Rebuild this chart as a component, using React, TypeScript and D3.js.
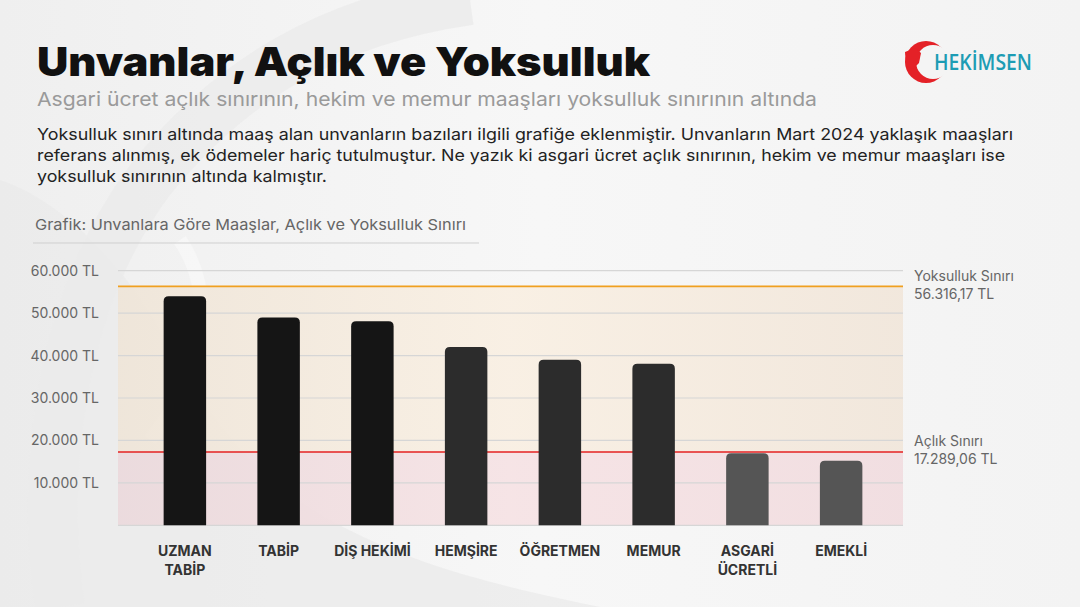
import React from "react";
import * as d3 from "d3";

const categories = ["UZMAN TABİP", "TABİP", "DİŞ HEKİMİ", "HEMŞİRE", "ÖĞRETMEN", "MEMUR", "ASGARİ ÜCRETLİ", "EMEKLİ"];
const labelLines = [["UZMAN", "TABİP"], ["TABİP"], ["DİŞ HEKİMİ"], ["HEMŞİRE"], ["ÖĞRETMEN"], ["MEMUR"], ["ASGARİ", "ÜCRETLİ"], ["EMEKLİ"]];
const salaries = [54000, 49000, 48100, 42000, 39000, 38100, 17002, 15200];
const barShade = [0, 0, 0, 1, 1, 1, 2, 2];
const yTicks = [10000, 20000, 30000, 40000, 50000, 60000];
const yTickLabels = ["10.000 TL", "20.000 TL", "30.000 TL", "40.000 TL", "50.000 TL", "60.000 TL"];
const povertyLine = 56316.17;
const hungerLine = 17289.06;
const paragraph = [
  "Yoksulluk sınırı altında maaş alan unvanların bazıları ilgili grafiğe eklenmiştir. Unvanların Mart 2024 yaklaşık maaşları",
  "referans alınmış, ek ödemeler hariç tutulmuştur. Ne yazık ki asgari ücret açlık sınırının, hekim ve memur maaşları ise",
  "yoksulluk sınırının altında kalmıştır.",
];
const paragraphWidths = [976, 968, 290];

export default function App() {
  const W = 1080, H = 607;
  const plotL = 118, plotR = 903;
  const y = d3.scaleLinear().domain([0, 60000]).range([525.3, 270.7]);
  const x = d3.scaleBand<string>().domain(categories).range([138, 888]).paddingInner(0.547).paddingOuter(0.2735);
  const shades = ["#151515", "#2c2c2c", "#555555"];
  const font = "Inter, 'Open Sans', sans-serif";
  const bw = x.bandwidth();
  const r = 5;
  const barPath = (x0: number, y0: number, w: number, y1: number) =>
    `M${x0},${y1}V${y0 + r}Q${x0},${y0} ${x0 + r},${y0}H${x0 + w - r}Q${x0 + w},${y0} ${x0 + w},${y0 + r}V${y1}Z`;

  return (
    <svg width={W} height={H} style={{ position: "absolute", left: 0, top: 0 }} fontFamily={font}>
      <defs>
        <linearGradient id="bg" x1="0" x2="1" y1="0" y2="0">
          <stop offset="0" stopColor="#efefef" />
          <stop offset="0.5" stopColor="#f7f7f7" />
          <stop offset="1" stopColor="#f3f3f3" />
        </linearGradient>
        <linearGradient id="beige" x1="0" x2="1" y1="0" y2="0">
          <stop offset="0" stopColor="#efe5d8" />
          <stop offset="0.5" stopColor="#f9efe2" />
          <stop offset="1" stopColor="#f1e6da" />
        </linearGradient>
        <linearGradient id="pink" x1="0" x2="1" y1="0" y2="0">
          <stop offset="0" stopColor="#ebd9dc" />
          <stop offset="0.5" stopColor="#f6e2e4" />
          <stop offset="1" stopColor="#f1dcdf" />
        </linearGradient>
      </defs>
      <rect width={W} height={H} fill="url(#bg)" />
      {/* faint watermark */}
      <path d="M0,180 C60,200 120,260 160,330 C200,400 240,470 330,520 C420,570 520,590 600,607 L0,607 Z" fill="#e9e9e9" opacity={0.7} />
      <path d="M60,607 C40,470 60,300 150,180 C230,80 330,20 470,0" fill="none" stroke="#ebebeb" strokeWidth={50} opacity={0.8} />
      <path d="M180,240 C220,300 200,380 150,440" fill="none" stroke="#f7f7f7" strokeWidth={14} opacity={0.8} />

      {/* title */}
      <text x={37} y={76} fontSize={40} fontWeight={900} fill="#111" textLength={613} lengthAdjust="spacingAndGlyphs">Unvanlar, Açlık ve Yoksulluk</text>
      <text x={37} y={106} fontSize={19} fill="#9a9a9a" textLength={780} lengthAdjust="spacingAndGlyphs">Asgari ücret açlık sınırının, hekim ve memur maaşları yoksulluk sınırının altında</text>
      {paragraph.map((t, i) => (
        <text key={i} x={37} y={140 + i * 21} fontSize={16.5} fill="#222" textLength={paragraphWidths[i]} lengthAdjust="spacingAndGlyphs">{t}</text>
      ))}
      <text x={35} y={230} fontSize={15} fill="#666" textLength={431} lengthAdjust="spacingAndGlyphs">Grafik: Unvanlara Göre Maaşlar, Açlık ve Yoksulluk Sınırı</text>
      <line x1={33} x2={479} y1={243} y2={243} stroke="#cfcfcf" strokeWidth={1} />

      {/* logo */}
      <g>
        <circle cx={926} cy={62} r={21} fill="#e42127" />
        <circle cx={933} cy={62} r={17} fill="#f4f4f4" />
        <path d="M905,52 l10,-4 l6,5 l-2,10 l-6,6 l-7,-3 z" fill="#e42127" />
        <text x={934} y={70} fontSize={21} fontWeight={600} fill="#1d9cb4" fontFamily="'Open Sans', sans-serif" textLength={98} lengthAdjust="spacingAndGlyphs">HEKİMSEN</text>
      </g>

      {/* zones */}
      <rect x={plotL} width={plotR - plotL} y={y(povertyLine)} height={y(hungerLine) - y(povertyLine)} fill="url(#beige)" opacity={0.9} />
      <rect x={plotL} width={plotR - plotL} y={y(hungerLine)} height={y(0) - y(hungerLine)} fill="url(#pink)" opacity={0.9} />

      {/* gridlines */}
      {[0, ...yTicks].map((t) => (
        <line key={t} x1={plotL} x2={plotR} y1={y(t)} y2={y(t)} stroke="#d6d6d6" strokeWidth={1.2} />
      ))}
      {yTicks.map((t, i) => (
        <text key={t} x={99} y={y(t) + 5} textAnchor="end" fontSize={14} fill="#666">{yTickLabels[i]}</text>
      ))}

      {/* limit lines */}
      <line x1={plotL} x2={plotR} y1={y(povertyLine)} y2={y(povertyLine)} stroke="#f0a020" strokeWidth={1.6} />
      <line x1={plotL} x2={plotR} y1={y(hungerLine)} y2={y(hungerLine)} stroke="#e52222" strokeWidth={1.6} />

      {/* bars */}
      {categories.map((c, i) => (
        <path key={c} d={barPath(x(c)!, y(salaries[i]), bw, y(0))} fill={shades[barShade[i]]} />
      ))}

      {/* x labels */}
      {categories.map((c, i) => (
        <text key={c} x={x(c)! + bw / 2} textAnchor="middle" fontSize={14} fontWeight={700} fill="#333">
          {labelLines[i].map((l, j) => (
            <tspan key={j} x={x(c)! + bw / 2} y={556 + j * 19}>{l}</tspan>
          ))}
        </text>
      ))}

      {/* right annotations */}
      <text x={914} y={281} fontSize={14} fill="#666">Yoksulluk Sınırı</text>
      <text x={914} y={299} fontSize={14} fill="#666">56.316,17 TL</text>
      <text x={914} y={446} fontSize={14} fill="#666">Açlık Sınırı</text>
      <text x={914} y={464} fontSize={14} fill="#666">17.289,06 TL</text>
    </svg>
  );
}
